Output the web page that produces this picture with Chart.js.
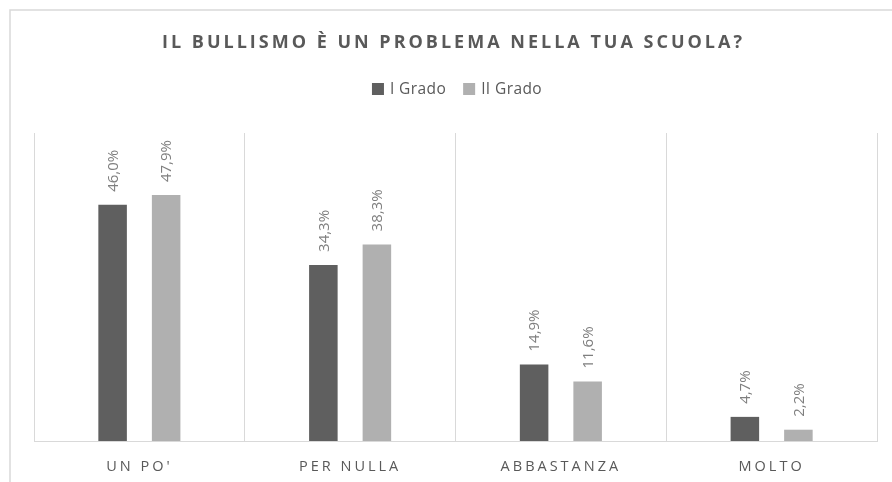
<!DOCTYPE html>
<html><head><meta charset="utf-8">
<script src="https://cdn.jsdelivr.net/npm/chart.js@4.4.1/dist/chart.umd.min.js"></script>
<style>html,body{margin:0;padding:0;background:#fff;overflow:hidden;}</style>
</head><body>
<canvas id="c" width="892" height="482"></canvas>
<script>
const chartTitle = 'IL BULLISMO È UN PROBLEMA NELLA TUA SCUOLA?';
const categories = ["UN PO'", 'PER NULLA', 'ABBASTANZA', 'MOLTO'];
const seriesNames = ['I Grado', 'II Grado'];
const primoGrado = [46.0, 34.3, 14.9, 4.7];
const secondoGrado = [47.9, 38.3, 11.6, 2.2];
const yMax = 60;

const colors = ['#5f5f5f', '#b0b0b0'];
const FONT = '"Open Sans", "Noto Sans", sans-serif';

function fmt(v){ return v.toFixed(1).replace('.', ',') + '%'; }

const deco = {
  id: 'deco',
  beforeDraw(chart){
    const ctx = chart.ctx;
    ctx.save();
    ctx.fillStyle = '#fff';
    ctx.fillRect(0, 0, chart.width, chart.height);
    ctx.strokeStyle = '#d9d9d9';
    ctx.lineWidth = 1.5;
    ctx.beginPath();
    ctx.moveTo(10, chart.height + 2);
    ctx.lineTo(10, 10);
    ctx.lineTo(chart.width + 2, 10);
    ctx.stroke();
    ctx.restore();
    ctx.letterSpacing = '3px';
  },
  beforeDatasetsDraw(chart){ chart.ctx.letterSpacing = '0px'; },
  afterDatasetsDraw(chart){
    const ctx = chart.ctx;
    ctx.save();
    ctx.letterSpacing = '0px';
    ctx.font = '15px ' + FONT;
    ctx.fillStyle = '#7f7f7f';
    ctx.textAlign = 'left';
    ctx.textBaseline = 'middle';
    chart.data.datasets.forEach((ds, di) => {
      const meta = chart.getDatasetMeta(di);
      meta.data.forEach((bar, i) => {
        ctx.save();
        ctx.translate(bar.x + 1, bar.y - 13);
        ctx.rotate(-Math.PI / 2);
        ctx.fillText(fmt(ds.data[i]), 0, 0);
        ctx.restore();
      });
    });
    ctx.restore();
  },
  afterDraw(chart){
    const ctx = chart.ctx;
    ctx.save();
    // title
    const ls = 3.0;
    ctx.letterSpacing = ls + 'px';
    ctx.font = 'bold 18px ' + FONT;
    ctx.fillStyle = '#595959';
    ctx.textAlign = 'left';
    ctx.textBaseline = 'middle';
    const tw = ctx.measureText(chartTitle).width - ls;
    ctx.fillText(chartTitle, 452 - tw / 2, 43);
    // legend
    ctx.letterSpacing = '0.4px';
    ctx.font = '15.5px ' + FONT;
    const box = 12, gap1 = 6, gap2 = 17;
    const widths = seriesNames.map(n => box + gap1 + ctx.measureText(n).width);
    const total = widths.reduce((a, b) => a + b, 0) + gap2 * (seriesNames.length - 1);
    let x = 457 - total / 2;
    const cy = 89;
    seriesNames.forEach((n, i) => {
      ctx.fillStyle = colors[i];
      ctx.fillRect(x, cy - box / 2, box, box);
      ctx.fillStyle = '#595959';
      ctx.fillText(n, x + box + gap1, cy + 0.5);
      x += widths[i] + gap2;
    });
    ctx.restore();
  }
};

new Chart(document.getElementById('c'), {
  type: 'bar',
  data: {
    labels: categories,
    datasets: [
      { label: seriesNames[0], data: primoGrado, backgroundColor: colors[0], borderWidth: 0,
        categoryPercentage: 0.508, barPercentage: 0.533 },
      { label: seriesNames[1], data: secondoGrado, backgroundColor: colors[1], borderWidth: 0,
        categoryPercentage: 0.508, barPercentage: 0.533 }
    ]
  },
  options: {
    responsive: false,
    animation: false,
    layout: { padding: { left: 34, right: 15, top: 133, bottom: 0 } },
    plugins: { legend: { display: false }, title: { display: false }, tooltip: { enabled: false } },
    scales: {
      x: {
        grid: { color: '#d9d9d9', lineWidth: 1, offset: true, drawTicks: false },
        border: { color: '#d9d9d9', width: 1 },
        ticks: { color: '#595959', font: { size: 14.5, family: FONT }, padding: 17.3, maxRotation: 0, autoSkip: false },
        afterFit(scale){ scale.height = 41; }
      },
      y: { display: false, min: 0, max: yMax }
    }
  },
  plugins: [deco]
});
</script>
</body></html>
